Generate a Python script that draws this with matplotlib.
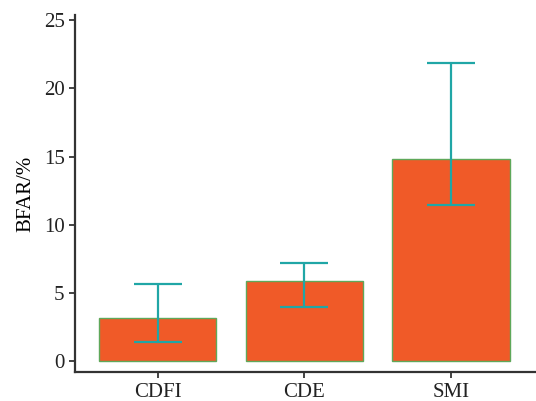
import matplotlib
matplotlib.use("Agg")
import matplotlib.pyplot as plt
import numpy as np

categories = ["CDFI", "CDE", "SMI"]
values = [3.15, 5.87, 14.8]
err_low = [1.39, 3.96, 11.44]
err_high = [5.65, 7.18, 21.9]
yticks = [0, 5, 10, 15, 20, 25]

plt.rcParams['font.family'] = ['Liberation Serif', 'DejaVu Serif']

fig = plt.figure(figsize=(5.36, 4.01), dpi=100)
ax = fig.add_axes([0.14, 0.072, 0.86, 0.891])

x = np.arange(len(categories))
vals = np.array(values)
lower = vals - np.array(err_low)
upper = np.array(err_high) - vals

ax.bar(x, vals, width=0.8, color="#F05A28", edgecolor="#5FA85A", linewidth=1.0, zorder=2)
ax.errorbar(x, vals, yerr=[lower, upper], fmt="none", ecolor="#20A6A6",
            elinewidth=1.6, capsize=17, capthick=1.6, zorder=3)

ax.set_xlim(-0.563, 2.58)
ax.set_ylim(-0.8, 25.4)
ax.set_xticks(x)
ax.set_xticklabels(categories)
ax.set_yticks(yticks)
ax.set_ylabel("BFAR/%", fontsize=15, labelpad=6)
ax.tick_params(labelsize=15, colors="#222222", length=4, width=1.2)
for s in ["top", "right"]:
    ax.spines[s].set_visible(False)
for s in ["left", "bottom"]:
    ax.spines[s].set_linewidth(1.6)
    ax.spines[s].set_color("#333333")

fig.savefig("out.png", dpi=100)
